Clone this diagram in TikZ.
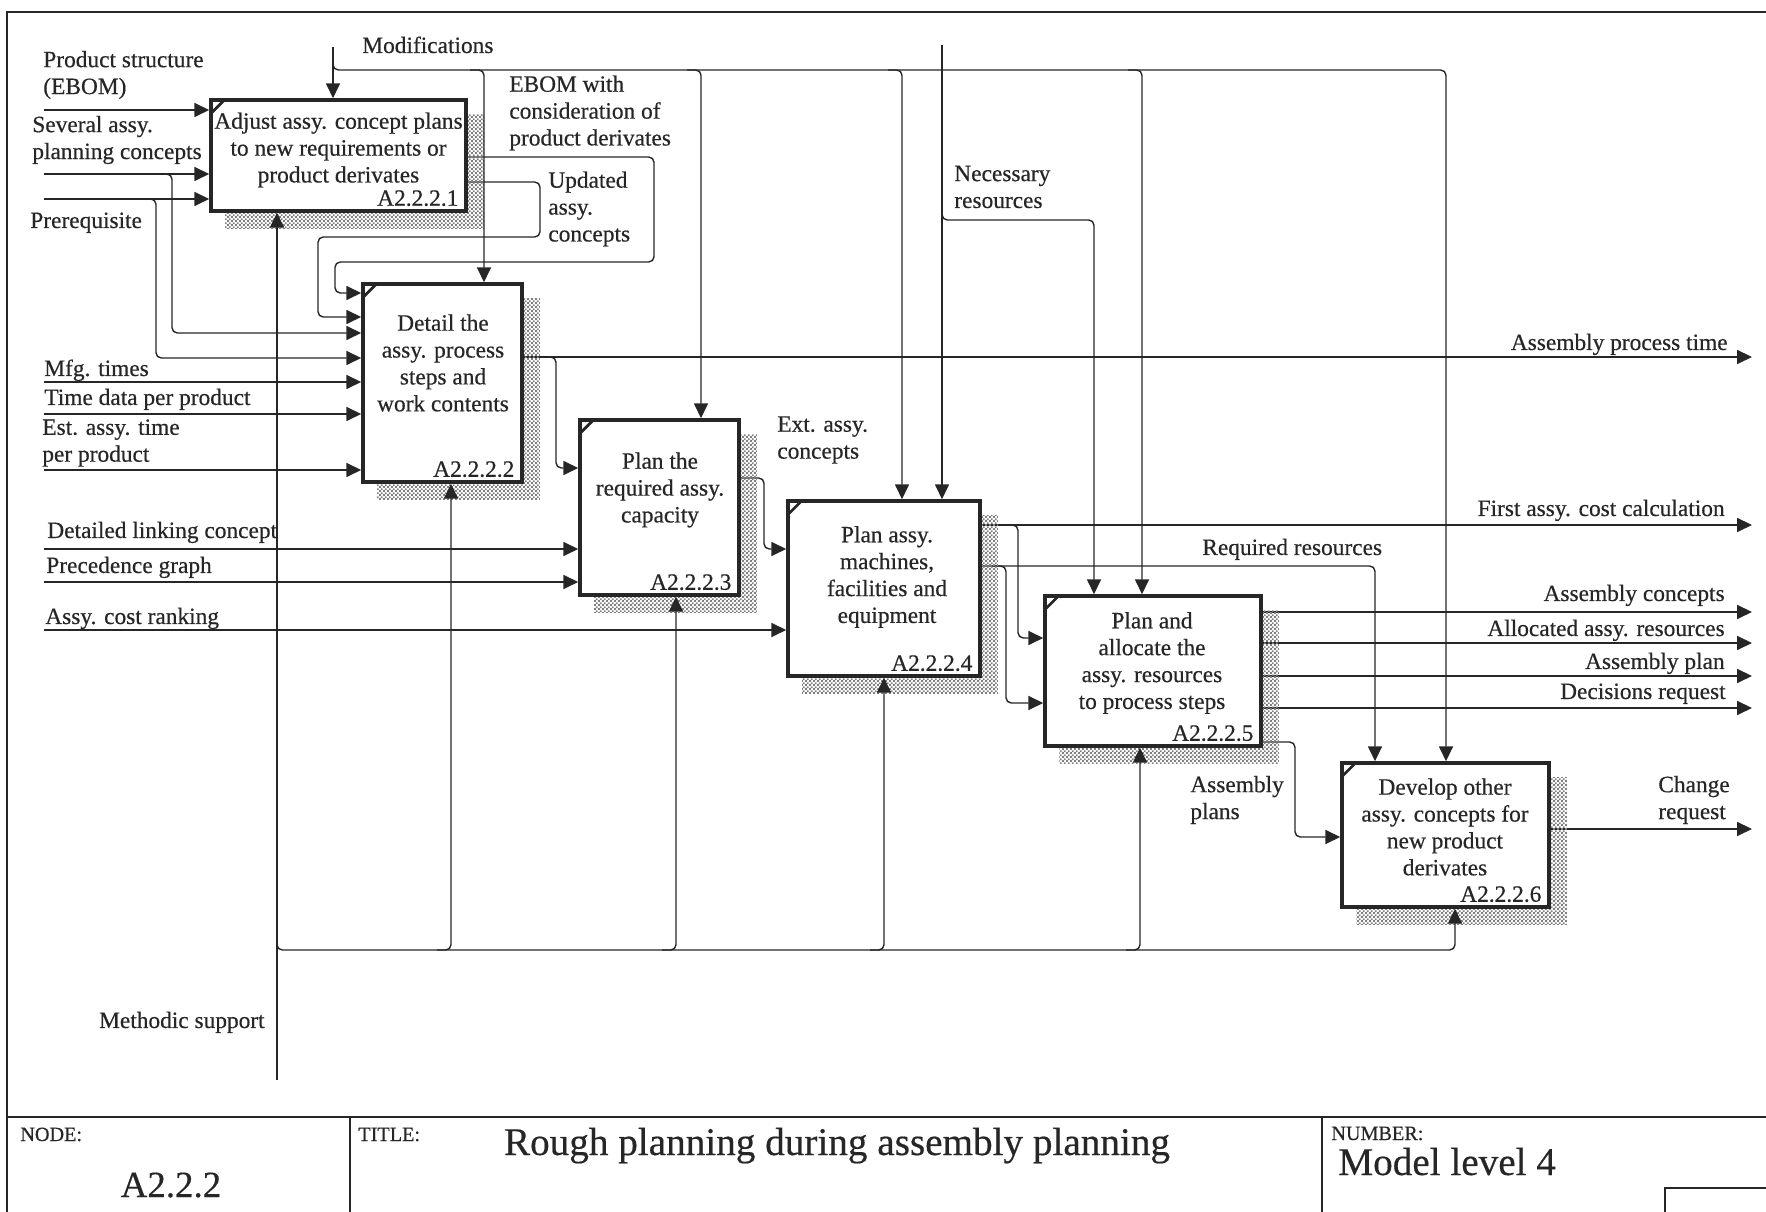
\documentclass[tikz,border=0pt]{standalone}
\usepackage{fontspec}
\setmainfont{Liberation Serif}[FakeBold=0.45]
\usetikzlibrary{arrows.meta,calc,patterns}
\pgfdeclarelayer{flowback}
\pgfdeclarelayer{shadowlayer}
\pgfsetlayers{flowback,shadowlayer,main}
% fine checker texture for the box shadows
\pgfdeclarepatternformonly{shadechk}{\pgfpointorigin}{\pgfqpoint{2.4pt}{2.4pt}}{\pgfqpoint{2.4pt}{2.4pt}}{%
  \pgfpathrectangle{\pgfpointorigin}{\pgfqpoint{1.2pt}{1.2pt}}%
  \pgfpathrectangle{\pgfqpoint{1.2pt}{1.2pt}}{\pgfqpoint{1.2pt}{1.2pt}}%
  \pgfusepath{fill}}
\begin{document}
\begin{tikzpicture}[x=0.02cm, y=-0.02cm,
  every node/.style={inner sep=0pt, text=black!85, font=\fontsize{13.3}{15.3}\selectfont},
  idef/.style 2 args={draw=black!85, line width=2pt, fill=white,
    minimum width=#1*0.02cm, minimum height=#2*0.02cm},
  flow/.style={draw=black!85, line width=0.8pt, rounded corners=3pt},
  arr/.style={flow, -{Triangle[length=8.5pt,width=8pt]}},
  frameline/.style={draw=black!85, line width=0.8pt},
  boxshadow/.style={pattern=shadechk, pattern color=black!50},
  notch/.style={draw=black!85, line width=1.6pt},
  lbl/.style={align=left},
  boxtxt/.style={align=center},
  boxid/.style={anchor=base east},
  tblbig/.style={font=\fontsize{22.3}{26}\selectfont},
  tblsmall/.style={font=\fontsize{11.5}{13}\selectfont}
]
\useasboundingbox (0,0) rectangle (1766,1212);

% ---------- form frame and title block ----------
\draw[frameline] (7,1212) -- (7,12) -- (1766,12);
\draw[frameline] (7,1117) -- (1766,1117);
\draw[frameline] (350,1117) -- (350,1212);
\draw[frameline] (1322,1117) -- (1322,1212);
\draw[frameline] (1766,1188) -- (1665,1188) -- (1665,1212);

\node[tblsmall, anchor=base west] (nodehead) at (20,1141) {NODE:};
\node[tblbig, font=\fontsize{21}{24}\selectfont, anchor=base] (nodenum) at (171,1197) {A2.2.2};
\node[tblsmall, anchor=base west] (titlehead) at (358,1141) {TITLE:};
\node[tblbig, anchor=base] (titletext) at (837,1155) {Rough planning during assembly planning};
\node[tblsmall, anchor=base west] (numhead) at (1331,1140) {NUMBER:};
\node[tblbig, anchor=base west] (numtext) at (1338,1175) {Model level 4};

% ---------- activity boxes ----------
\node[idef={255}{111}] (b1) at (338.5,155.5) {};
\node[idef={159}{198}] (b2) at (442.5,383) {};
\node[idef={159}{175}] (b3) at (659.5,507.5) {};
\node[idef={192}{175}] (b4) at (884,588.5) {};
\node[idef={216}{150}] (b5) at (1153,671) {};
\node[idef={207}{144}] (b6) at (1445.5,835) {};

\begin{pgfonlayer}{shadowlayer}
\foreach \b in {b1,b2,b3,b4,b5,b6}
  \fill[boxshadow] ($(\b.north west)+(16,16)$) rectangle ($(\b.south east)+(16,16)$);
\end{pgfonlayer}
\foreach \b in {b1,b2,b3,b4,b5,b6}
  \draw[notch] ($(\b.north west)+(2,15)$) -- ($(\b.north west)+(15,2)$);

\node[boxtxt] (t1) at (338.5,150) {Adjust assy. concept plans\\to new requirements or\\product derivates};
\node[boxtxt] (t2) at (443,363) {Detail the\\assy. process\\steps and\\work contents};
\node[boxtxt] (t3) at (660,490) {Plan the\\required assy.\\capacity};
\node[boxtxt] (t4) at (887,577) {Plan assy.\\machines,\\facilities and\\equipment};
\node[boxtxt] (t5) at (1152,663) {Plan and\\allocate the\\assy. resources\\to process steps};
\node[boxtxt] (t6) at (1445,827) {Develop other\\assy. concepts for\\new product\\derivates};

\node[boxid] (id1) at ($(b1.south east)+(-9,-7)$) {A2.2.2.1};
\node[boxid] (id2) at ($(b2.south east)+(-9,-7)$) {A2.2.2.2};
\node[boxid] (id3) at ($(b3.south east)+(-9,-7)$) {A2.2.2.3};
\node[boxid] (id4) at ($(b4.south east)+(-9,-7)$) {A2.2.2.4};
\node[boxid] (id5) at ($(b5.south east)+(-9,-7)$) {A2.2.2.5};
\node[boxid] (id6) at ($(b6.south east)+(-9,-7)$) {A2.2.2.6};

% ---------- free ends of the boundary arrows ----------
\coordinate (iPS) at (44,110);
\coordinate (iSA) at (44,174);
\coordinate (iPR) at (44,199);
\coordinate (iMT) at (44,382);
\coordinate (iTD) at (44,414);
\coordinate (iEA) at (44,470);
\coordinate (iDL) at (44,549);
\coordinate (iPG) at (44,582);
\coordinate (iAC) at (44,630);
\coordinate (cMO) at (333,47);
\coordinate (cNR) at (942,45);
\coordinate (mMS) at (277,1080);
\coordinate (oAPT) at (1752,357);
\coordinate (oFAC) at (1752,525);
\coordinate (oAC) at (1752,612);
\coordinate (oAR) at (1752,643);
\coordinate (oAP) at (1752,676);
\coordinate (oDR) at (1752,708);
\coordinate (oCR) at (1752,829);

% ---------- inputs ----------
\draw[arr] (iPS) -- (iPS -| b1.west);
\draw[arr] (iSA) -- (iSA -| b1.west);
\draw[arr] (iPR) -- (iPR -| b1.west);
\draw[arr] (160,174) -- (172,174) -- (172,333) -- (b2.west |- 0,333);
\draw[arr] (144,199) -- (156,199) -- (156,358) -- (b2.west |- 0,358);
\draw[arr] (iMT) -- (iMT -| b2.west);
\draw[arr] (iTD) -- (iTD -| b2.west);
\draw[arr] (iEA) -- (iEA -| b2.west);
\draw[arr] (iDL) -- (iDL -| b3.west);
\draw[arr] (iPG) -- (iPG -| b3.west);
\draw[arr] (iAC) -- (iAC -| b4.west);

% ---------- controls ----------
\draw[arr] (cMO) -- (cMO |- b1.north);
\draw[arr] (333,58) -- (333,70) -- (1446,70) -- (1446,0 |- b6.north);
\draw[arr] (470,70) -- (484,70) -- (484,0 |- b2.north);
\draw[arr] (687,70) -- (701,70) -- (701,0 |- b3.north);
\draw[arr] (888,70) -- (902,70) -- (902,0 |- b4.north);
\draw[arr] (1128,70) -- (1142,70) -- (1142,0 |- b5.north);
\draw[arr] (cNR) -- (cNR |- b4.north);
\draw[arr] (942,208) -- (942,220) -- (1094,220) -- (1094,0 |- b5.north);

% ---------- mechanism ----------
\draw[arr] (mMS) -- (mMS |- b1.south);
\draw[arr] (277,938) -- (277,950) -- (1455,950) -- (1455,0 |- b6.south);
\draw[arr] (437,950) -- (451,950) -- (451,0 |- b2.south);
\draw[arr] (662,950) -- (676,950) -- (676,0 |- b3.south);
\draw[arr] (870,950) -- (884,950) -- (884,0 |- b4.south);
\draw[arr] (1126,950) -- (1140,950) -- (1140,0 |- b5.south);

% ---------- outputs (behind the shadows) ----------
\begin{pgfonlayer}{flowback}
\draw[arr] (b1.east |- 0,157) -- (654,157) -- (654,262) -- (335,262) -- (335,293) -- (b2.west |- 0,293);
\draw[arr] (b1.east |- 0,182) -- (540,182) -- (540,237) -- (318,237) -- (318,317) -- (b2.west |- 0,317);
\draw[arr] (b2.east |- oAPT) -- (oAPT);
\draw[arr] (542,357) -- (556,357) -- (556,468) -- (b3.west |- 0,468);
\draw[arr] (b3.east |- 0,478) -- (764,478) -- (764,549) -- (b4.west |- 0,549);
\draw[arr] (b4.east |- oFAC) -- (oFAC);
\draw[arr] (1004,525) -- (1018,525) -- (1018,638) -- (b5.west |- 0,638);
\draw[arr] (b4.east |- 0,566) -- (1375,566) -- (1375,0 |- b6.north);
\draw[arr] (992,566) -- (1006,566) -- (1006,703) -- (b5.west |- 0,703);
\draw[arr] (b5.east |- oAC) -- (oAC);
\draw[arr] (b5.east |- oAR) -- (oAR);
\draw[arr] (b5.east |- oAP) -- (oAP);
\draw[arr] (b5.east |- oDR) -- (oDR);
\draw[arr] (b5.east |- 0,742) -- (1295,742) -- (1295,837) -- (b6.west |- 0,837);
\draw[arr] (b6.east |- oCR) -- (oCR);
\end{pgfonlayer}

% ---------- arrow labels ----------
\node[lbl, anchor=west] (lPS) at (43,75) {Product structure\\(EBOM)};
\node[lbl, anchor=west] (lSA) at (32,140) {Several assy.\\planning concepts};
\node[anchor=base west] (lPR) at (30,228) {Prerequisite};
\node[anchor=base west] (lMT) at (44,376) {Mfg. times};
\node[anchor=base west] (lTD) at (44,405) {Time data per product};
\node[lbl, anchor=west] (lEA) at (42,443) {Est. assy. time\\per product};
\node[anchor=base west] (lDL) at (47,538) {Detailed linking concept};
\node[anchor=base west] (lPG) at (46,573) {Precedence graph};
\node[anchor=base west] (lAC) at (45,624) {Assy. cost ranking};
\node[anchor=base west] (lMO) at (362,53) {Modifications};
\node[lbl, anchor=west] (lEB) at (509,113) {EBOM with\\consideration of\\product derivates};
\node[lbl, anchor=west] (lUA) at (548,209) {Updated\\assy.\\concepts};
\node[lbl, anchor=west] (lNR) at (954,187) {Necessary\\resources};
\node[lbl, anchor=west] (lEX) at (777,440) {Ext. assy.\\concepts};
\node[anchor=base east] (lAPT) at (1728,350) {Assembly process time};
\node[anchor=base east] (lFAC) at (1725,516) {First assy. cost calculation};
\node[anchor=base west] (lRR) at (1202,555) {Required resources};
\node[anchor=base east] (lACo) at (1725,601) {Assembly concepts};
\node[anchor=base east] (lAR) at (1725,636) {Allocated assy. resources};
\node[anchor=base east] (lAP) at (1725,669) {Assembly plan};
\node[anchor=base east] (lDR) at (1726,699) {Decisions request};
\node[lbl, anchor=west] (lAS) at (1190,800) {Assembly\\plans};
\node[lbl, anchor=west] (lCR) at (1658,800) {Change\\request};
\node[anchor=base east] (lMS) at (265,1028) {Methodic support};

\end{tikzpicture}
\end{document}
